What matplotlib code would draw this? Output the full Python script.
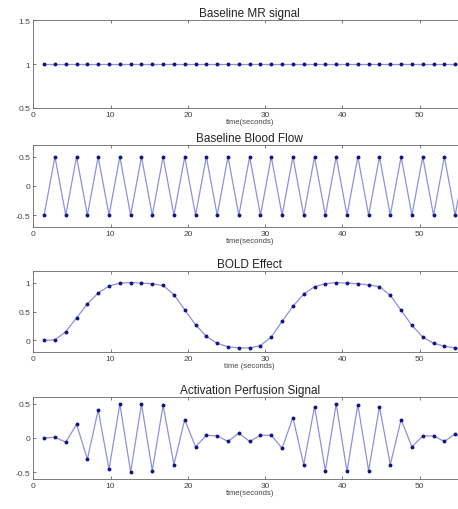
import matplotlib
matplotlib.use('Agg')
from matplotlib import pyplot as plt


TIME = [1.4 * k for k in range(1, 41)]

BASELINE_MR = [1.0] * 40

BLOOD_FLOW = [-0.5, 0.5] * 20

BOLD = [
    0.0, 0.01, 0.15, 0.39, 0.63, 0.82, 0.94, 0.99, 1.0, 0.99,
    0.98, 0.95, 0.79, 0.53, 0.27, 0.07, -0.05, -0.11, -0.13, -0.13,
    -0.09, 0.06, 0.33, 0.59, 0.80, 0.93, 0.98, 1.0, 0.99, 0.98,
    0.96, 0.93, 0.78, 0.52, 0.26, 0.06, -0.05, -0.10, -0.13, -0.14,
]

PERFUSION = [
    0.0, 0.01, -0.06, 0.20, -0.31, 0.41, -0.46, 0.50, -0.50, 0.50,
    -0.48, 0.48, -0.39, 0.27, -0.13, 0.04, 0.03, -0.05, 0.07, -0.05,
    0.04, 0.04, -0.15, 0.30, -0.39, 0.46, -0.48, 0.50, -0.49, 0.49,
    -0.48, 0.46, -0.39, 0.27, -0.13, 0.03, 0.03, -0.05, 0.06, -0.07,
]

PANELS = [
    ('Baseline MR signal', BASELINE_MR, (0.5, 1.5), [0.5, 1, 1.5], ['0.5', '1', '1.5'], 'time(seconds)'),
    ('Baseline Blood Flow', BLOOD_FLOW, (-0.7, 0.7), [-0.5, 0, 0.5], ['-0.5', '0', '0.5'], 'time(seconds)'),
    ('BOLD Effect', BOLD, (-0.2, 1.2), [0, 0.5, 1], ['0', '0.5', '1'], 'time (seconds)'),
    ('Activation Perfusion Signal', PERFUSION, (-0.6, 0.6), [-0.5, 0, 0.5], ['-0.5', '0', '0.5'], 'time(seconds)'),
]

# axes boxes in pixels: (top, bottom)
BOXES = [(21, 109), (146, 228), (272, 353), (398, 480)]

W, H = 458, 510


def main():
    plt.rcParams['font.family'] = ['Liberation Sans', 'DejaVu Sans']
    fig = plt.figure(figsize=(W / 100, H / 100), dpi=100)

    left, right = 33.3, 466.0
    for (title, values, ylim, yticks, ylabels, xlabel), (top, bottom) in zip(PANELS, BOXES):
        ax = fig.add_axes([left / W, 1 - bottom / H, (right - left) / W, (bottom - top) / H])
        ax.plot(TIME, values, color='#9090da', lw=0.9, zorder=2)
        ax.plot(TIME, values, ls='none', marker='o', ms=1.8, color='#141488', zorder=3)
        ax.set_xlim(0, 56)
        ax.set_ylim(*ylim)
        ax.set_xticks([0, 10, 20, 30, 40, 50])
        ax.set_yticks(yticks)
        ax.set_yticklabels(ylabels)
        ax.tick_params(direction='in', length=2.5, width=0.5, labelsize=6,
                       colors='#444444', top=True, right=True, pad=2)
        for s in ax.spines.values():
            s.set_linewidth(0.6)
            s.set_color('#666666')
        ax.set_title(title, fontsize=8.5, pad=3, color='#222222')
        ax.set_xlabel(xlabel, fontsize=5.5, labelpad=0.5, color='#444444')

    fig.savefig('out.png', dpi=100)


if __name__ == '__main__':
    main()
